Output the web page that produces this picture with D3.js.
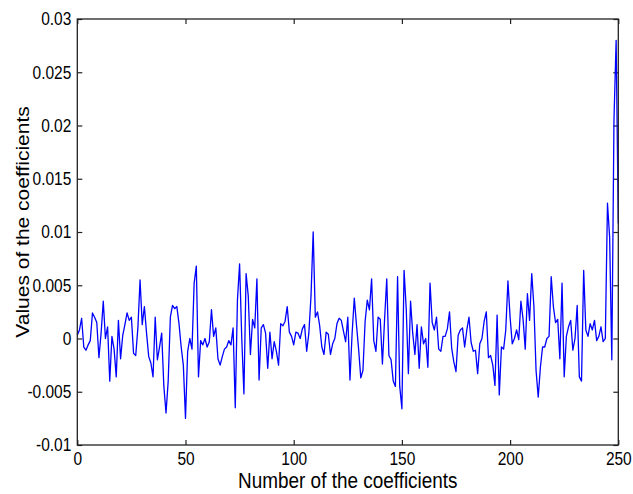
<!DOCTYPE html>
<html>
<head>
    <meta charset='utf-8'/>
    <title>coefficients</title>
    <style>
        body {
            margin: 0;
            background: #ffffff;
        }

        text {
            font-family: "Liberation Sans", Arial, sans-serif;
            fill: #000000;
        }

        .axis path.domain {
            display: none;
        }

        .axis line {
            stroke: #222222;
            stroke-width: 1.2;
        }

        #frame {
            fill: none;
            stroke: #222222;
            stroke-width: 1.3;
        }

        #coefs {
            fill: none;
            stroke: #0000ff;
            stroke-width: 1.3;
            stroke-linejoin: round;
        }
    </style>
</head>
<body>
<div id="chart"></div>

<script src="https://d3js.org/d3.v7.min.js"></script>
<script type="text/javascript">

    // values, index 0..250
    var coefs_0 = [0.0003, 0.0008, 0.0019, -0.0008, -0.0011, -0.0006, -0.0002, 0.0024, 0.0020, 0.0015,
        -0.0018, 0.0005, 0.0035, 0.0000, 0.0011, -0.0040, 0.0002, -0.0010, -0.0036, 0.0017,
        -0.0019, 0.0003, 0.0013, 0.0024, 0.0017, 0.0020, -0.0014, -0.0016, 0.0010, 0.0055,
        0.0013, 0.0030, 0.0005, -0.0017, -0.0023, -0.0036, 0.0020, -0.0020, -0.0008, 0.0005,
        -0.0045, -0.0070, -0.0040, 0.0020, 0.0031, 0.0028, 0.0030, 0.0014, -0.0008, -0.0025];

    var coefs_50 = [-0.0075, -0.0012, 0.0000, -0.0010, 0.0052, 0.0068, -0.0036, -0.0002, -0.0006, 0.0000,
        -0.0008, -0.0003, 0.0027, 0.0002, 0.0010, -0.0019, -0.0025, -0.0017, -0.0010, -0.0008,
        -0.0002, -0.0006, 0.0010, -0.0065, 0.0036, 0.0070, 0.0000, -0.0052, 0.0061, 0.0040,
        -0.0015, 0.0018, 0.0010, 0.0056, -0.0039, 0.0010, 0.0013, 0.0005, -0.0028, 0.0006,
        -0.0019, -0.0003, -0.0012, -0.0025, 0.0014, 0.0012, 0.0016, 0.0030, 0.0006, 0.0002];

    var coefs_100 = [-0.0006, 0.0006, 0.0005, 0.0000, 0.0009, 0.0013, -0.0012, 0.0005, 0.0040, 0.0100,
        0.0020, 0.0025, 0.0012, -0.0008, -0.0015, 0.0006, 0.0004, -0.0015, -0.0005, 0.0000,
        0.0014, 0.0019, 0.0017, 0.0007, -0.0003, 0.0020, -0.0039, 0.0005, 0.0038, 0.0013,
        -0.0010, -0.0037, -0.0030, 0.0016, 0.0036, 0.0027, 0.0056, -0.0002, -0.0012, 0.0020,
        0.0018, -0.0024, 0.0018, 0.0056, -0.0016, -0.0020, -0.0040, -0.0045, 0.0058, -0.0045];

    var coefs_150 = [-0.0066, 0.0064, 0.0028, -0.0033, 0.0035, 0.0005, -0.0015, 0.0013, -0.0028, 0.0011,
        -0.0005, 0.0000, -0.0027, 0.0052, 0.0015, 0.0008, 0.0020, -0.0010, -0.0012, 0.0002,
        0.0002, 0.0009, 0.0025, -0.0009, -0.0022, -0.0031, 0.0003, 0.0008, 0.0010, -0.0008,
        0.0008, 0.0020, -0.0004, -0.0012, -0.0011, -0.0033, -0.0005, 0.0000, 0.0016, 0.0025,
        -0.0018, -0.0016, -0.0025, -0.0044, 0.0022, -0.0053, -0.0008, -0.0010, 0.0008, 0.0054];

    var coefs_200 = [0.0020, -0.0005, 0.0000, 0.0008, -0.0001, 0.0035, 0.0018, -0.0010, 0.0042, 0.0017,
        0.0061, 0.0030, -0.0030, -0.0055, -0.0027, -0.0008, -0.0008, 0.0000, 0.0002, 0.0058,
        0.0030, 0.0015, 0.0018, -0.0019, 0.0052, -0.0036, 0.0002, 0.0011, 0.0017, -0.0011,
        0.0000, 0.0031, -0.0036, -0.0040, 0.0064, 0.0008, 0.0002, 0.0014, 0.0008, 0.0017,
        -0.0002, 0.0002, 0.0011, -0.0003, 0.0000, 0.0127, 0.0095, -0.0020, 0.0205, 0.0280,
        0.0108];

    var coefs = coefs_0.concat(coefs_50, coefs_100, coefs_150, coefs_200);

    // ticks
    var x_ticks = [0, 50, 100, 150, 200, 250];
    var y_ticks = [-0.01, -0.005, 0, 0.005, 0.01, 0.015, 0.02, 0.025, 0.03];
    var y_tick_labels = ["-0.01", "-0.005", "0", "0.005", "0.01", "0.015", "0.02", "0.025", "0.03"];

    var x_title = "Number of the coefficients",
        y_title = "Values of the coefficients";

    // dims
    var svg_dx = 633,
        svg_dy = 494,
        margin = {top: 19, right: 14.7, bottom: 49, left: 77.3},
        plot_dx = svg_dx - margin.left - margin.right,
        plot_dy = svg_dy - margin.top - margin.bottom;

    // the picture is squeezed sideways, text too
    var squeeze = 0.86;

    // scales
    var x = d3.scaleLinear().domain([0, 250]).range([margin.left, margin.left + plot_dx]),
        y = d3.scaleLinear().domain([-0.01, 0.03]).range([margin.top + plot_dy, margin.top]);

    var svg = d3.select("#chart")
        .append("svg")
        .attr("width", svg_dx)
        .attr("height", svg_dy);

    svg.append("rect")
        .attr("width", svg_dx)
        .attr("height", svg_dy)
        .attr("fill", "#ffffff");

    /* axes, ticks point inward on all four sides */
    svg.append("g")
        .attr("class", "axis")
        .attr("transform", "translate(0," + y.range()[0] + ")")
        .call(d3.axisBottom(x).tickValues(x_ticks).tickSize(-5).tickPadding(7));

    svg.append("g")
        .attr("class", "axis")
        .attr("transform", "translate(0," + y.range()[1] + ")")
        .call(d3.axisTop(x).tickValues(x_ticks).tickSize(-5).tickFormat(""));

    svg.append("g")
        .attr("class", "axis")
        .attr("transform", "translate(" + x.range()[0] + ",0)")
        .call(d3.axisLeft(y).tickValues(y_ticks).tickSize(-5).tickPadding(6)
            .tickFormat((d, i) => y_tick_labels[i]));

    svg.append("g")
        .attr("class", "axis")
        .attr("transform", "translate(" + x.range()[1] + ",0)")
        .call(d3.axisRight(y).tickValues(y_ticks).tickSize(-5).tickFormat(""));

    svg.selectAll(".axis text")
        .attr("font-family", null)
        .attr("font-size", null)
        .style("font-size", "18px")
        .attr("fill", "#000000");

    // squeeze tick labels sideways
    svg.selectAll(".axis text").each(function () {
        var w = this.getComputedTextLength();
        if (w > 0) {
            d3.select(this)
                .attr("textLength", w * squeeze)
                .attr("lengthAdjust", "spacingAndGlyphs");
        }
    });

    /* coefficient line */
    var line = d3.line()
        .x((d, i) => x(i))
        .y(d => y(d));

    svg.append("path")
        .datum(coefs)
        .attr("id", "coefs")
        .attr("d", line);

    svg.append("rect")
        .attr("id", "frame")
        .attr("x", x.range()[0])
        .attr("y", y.range()[1])
        .attr("width", plot_dx)
        .attr("height", plot_dy);

    /* titles */
    var xt = svg.append("text")
        .attr("x", (x.range()[0] + x.range()[1]) / 2)
        .attr("y", 488)
        .attr("text-anchor", "middle")
        .style("font-size", "22px")
        .text(x_title);
    xt.attr("textLength", xt.node().getComputedTextLength() * squeeze)
        .attr("lengthAdjust", "spacingAndGlyphs");

    svg.append("text")
        .attr("transform", "translate(29,222) scale(" + squeeze + ",1) rotate(-90)")
        .attr("text-anchor", "middle")
        .style("font-size", "21px")
        .text(y_title);

</script>

</body>
</html>
